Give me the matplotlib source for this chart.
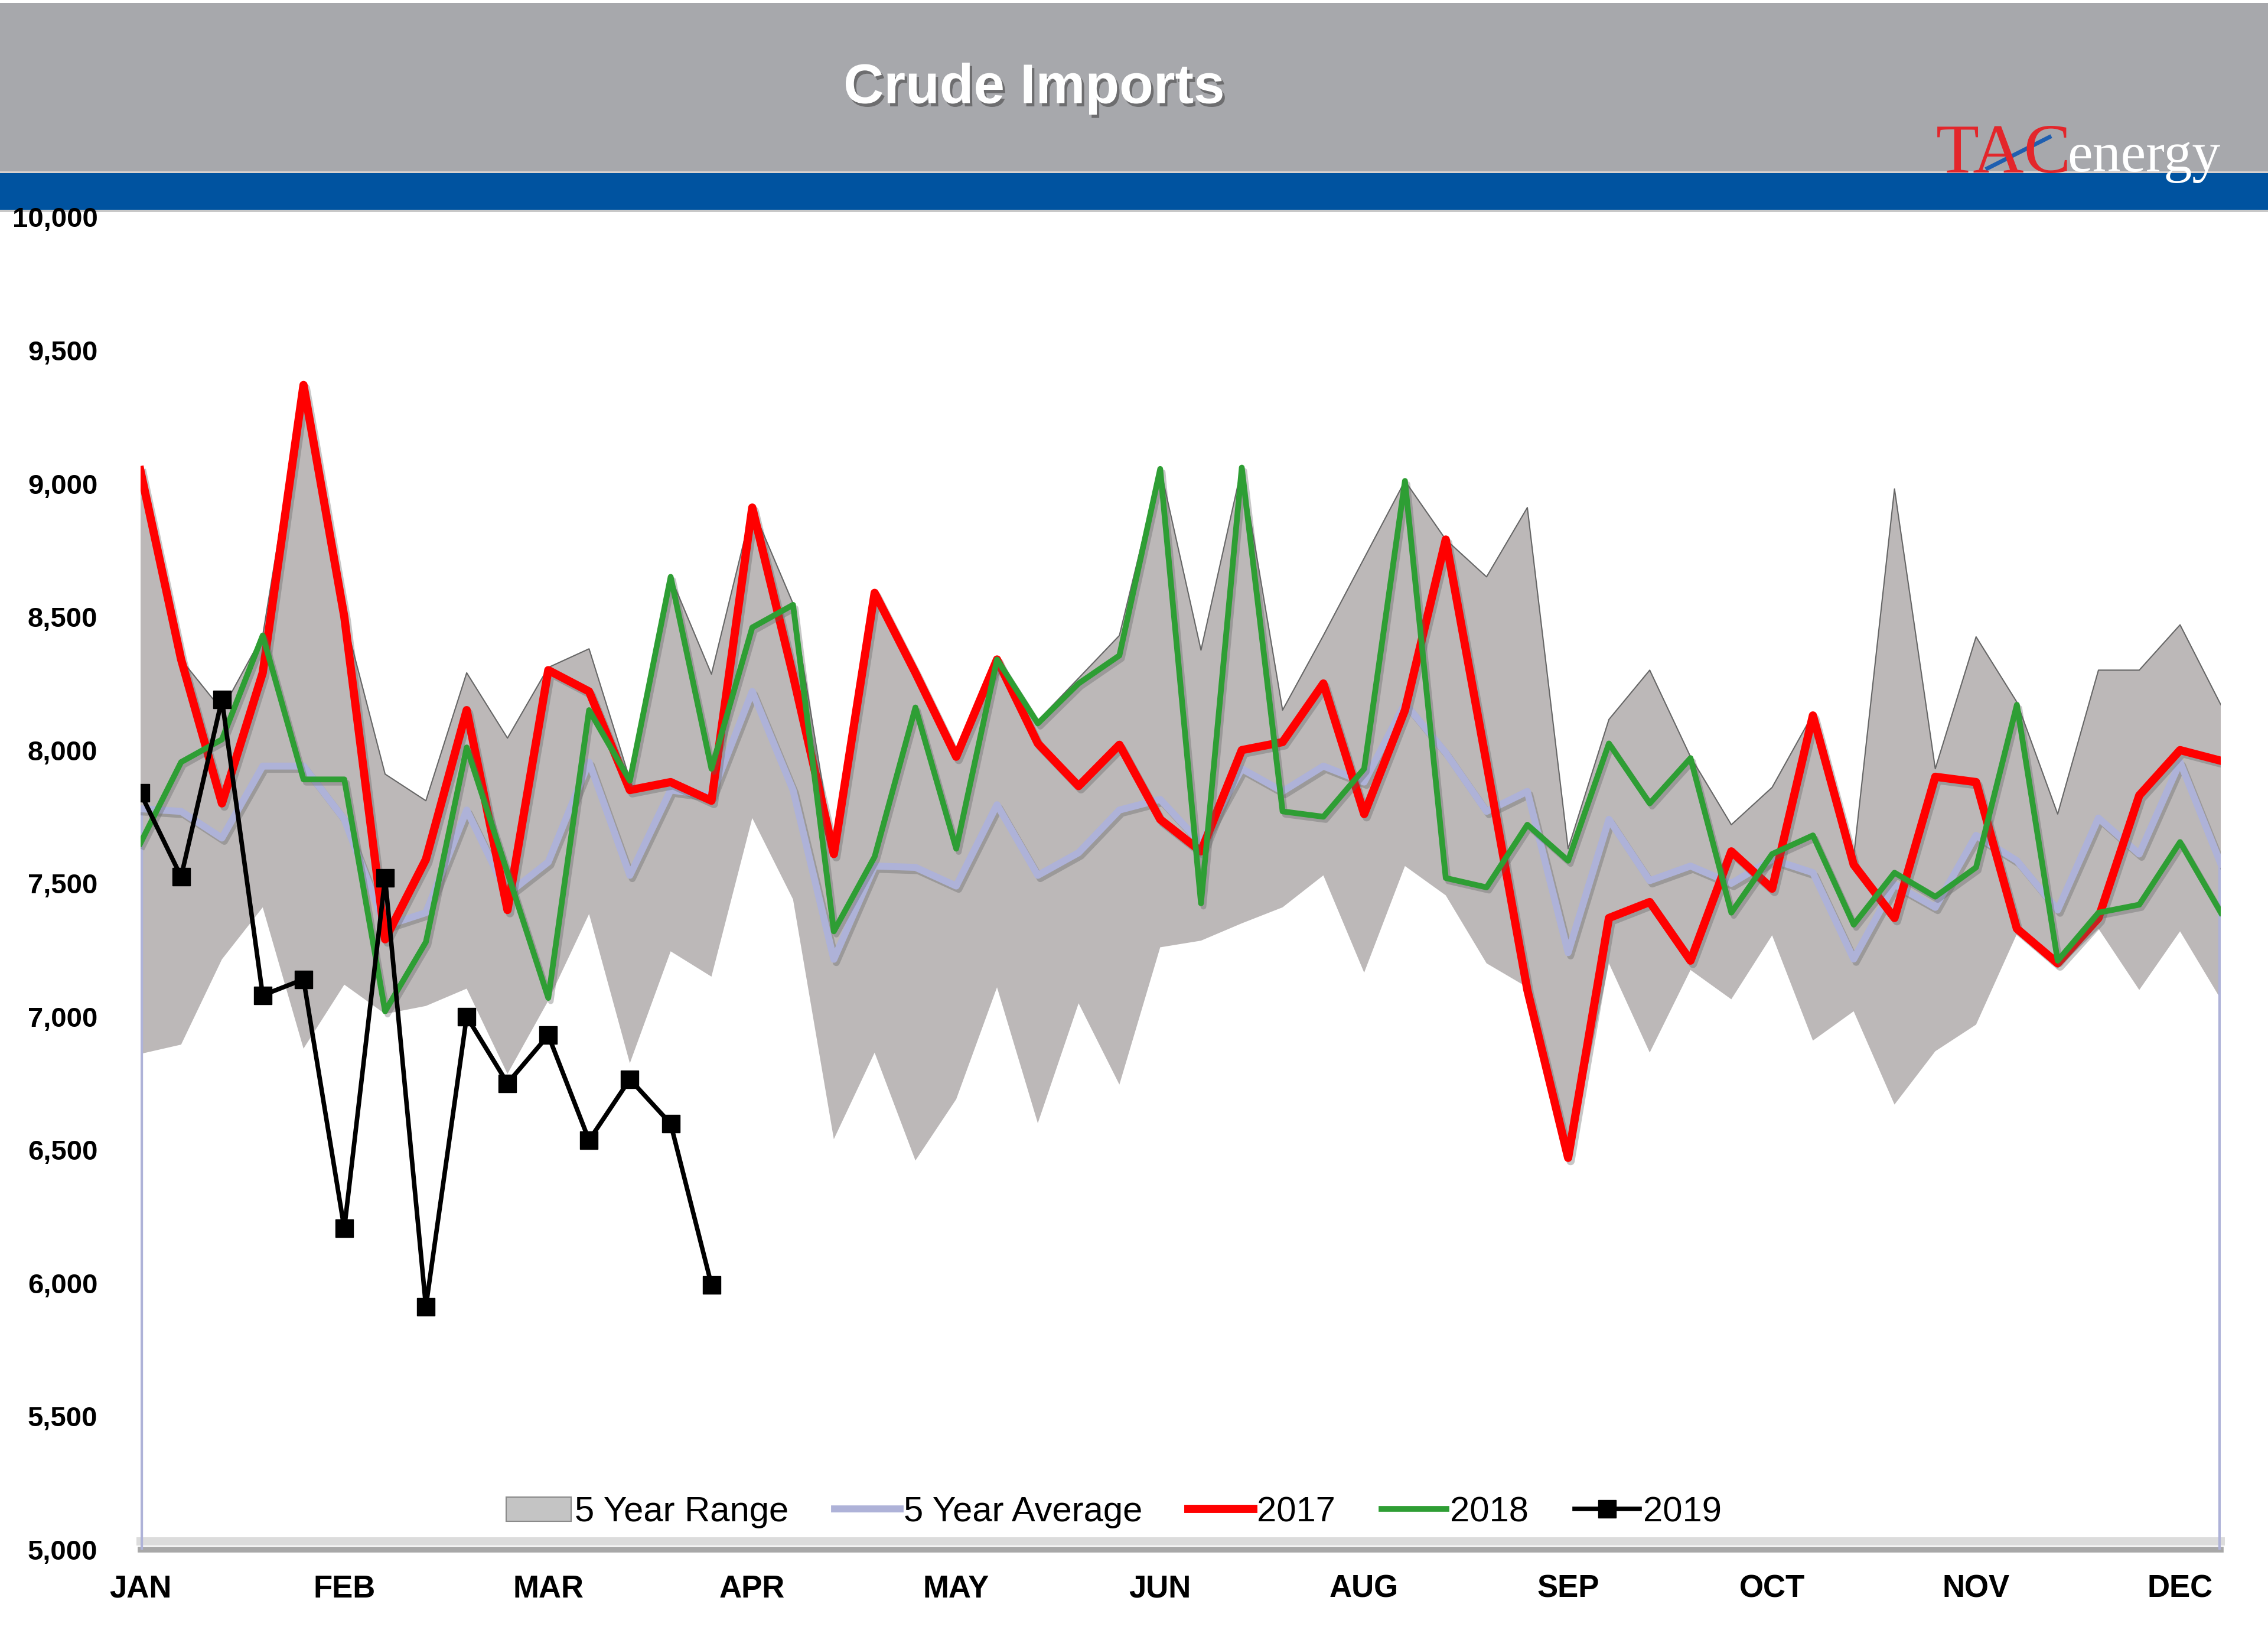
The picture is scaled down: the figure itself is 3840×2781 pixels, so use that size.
import numpy as np
import matplotlib.pyplot as plt
import matplotlib.patheffects as pe
from matplotlib.patches import Patch, Rectangle
from matplotlib.lines import Line2D

plt.rcParams['font.family'] = ['Liberation Sans', 'DejaVu Sans']

# weekly data, 52 weeks
weeks = np.arange(52)
month_ticks = list(range(0, 51, 5))
month_labels = ['JAN', 'FEB', 'MAR', 'APR', 'MAY', 'JUN', 'AUG', 'SEP', 'OCT', 'NOV', 'DEC']

range_high = [9050, 8340, 8150, 8430, 9370, 8500, 7910, 7810, 8290, 8045,
              8310, 8380, 7890, 8650, 8285, 8910, 8550, 7610, 8590, 8290,
              7980, 8345, 8110, 8270, 8430, 9060, 8375, 9060, 8150, 8430,
              8720, 9010, 8790, 8650, 8910, 7630, 8115, 8300, 7975, 7720,
              7860, 8135, 7600, 8980, 7930, 8425, 8180, 7760, 8300, 8300,
              8470, 8170]
range_low = [6860, 6895, 7215, 7410, 6880, 7120, 7010, 7040, 7105, 6785,
             7060, 7385, 6825, 7245, 7150, 7745, 7440, 6540, 6865, 6460,
             6690, 7110, 6600, 7050, 6745, 7260, 7285, 7350, 7410, 7530,
             7165, 7565, 7455, 7200, 7110, 6450, 7200, 6865, 7175, 7065,
             7305, 6910, 7020, 6670, 6870, 6970, 7310, 7180, 7330, 7100,
             7320, 7065]
avg_5yr = [7780, 7770, 7670, 7940, 7940, 7740, 7340, 7390, 7775, 7460,
           7580, 7955, 7530, 7850, 7830, 8220, 7850, 7215, 7565, 7560,
           7490, 7795, 7530, 7615, 7775, 7815, 7650, 7930, 7845, 7940,
           7880, 8175, 7990, 7770, 7845, 7240, 7740, 7510, 7565, 7500,
           7590, 7540, 7216, 7496, 7410, 7680, 7585, 7400, 7745, 7610,
           7955, 7573]
y2017 = [9050, 8340, 7800, 8290, 9370, 8500, 7290, 7590, 8150, 7400,
         8300, 8220, 7850, 7880, 7810, 8910, 8280, 7610, 8590, 8290,
         7975, 8340, 8025, 7865, 8020, 7740, 7620, 8000, 8030, 8250,
         7760, 8150, 8790, 7950, 7100, 6470, 7370, 7430, 7210, 7620,
         7480, 8130, 7570, 7370, 7900, 7880, 7330, 7200, 7370, 7830,
         8000, 7960]
y2018 = [7650, 7955, 8040, 8430, 7890, 7890, 7020, 7280, 8010, 7540,
         7070, 8150, 7885, 8650, 7930, 8460, 8545, 7320, 7600, 8160,
         7630, 8340, 8100, 8250, 8355, 9055, 7425, 9060, 7770, 7750,
         7930, 9010, 7520, 7485, 7720, 7585, 8025, 7800, 7970, 7390,
         7610, 7680, 7345, 7540, 7450, 7560, 8170, 7210, 7390, 7420,
         7655, 7390]
y2019 = [7840, 7525, 8190, 7080, 7140, 6205, 7520, 5912, 7000, 6750,
         6930, 6536, 6765, 6598, 5994]

W, H = 3840, 2781
fig = plt.figure(figsize=(W / 100, H / 100), dpi=100)

# header: gray banner + blue stripe
fig.add_artist(Rectangle((0, 1 - 290 / H), 1, 285 / H, transform=fig.transFigure,
                         facecolor='#A7A8AC', edgecolor='none', zorder=0))
fig.add_artist(Rectangle((0, 1 - 293 / H), 1, 3 / H, transform=fig.transFigure,
                         facecolor='#D9D2CF', edgecolor='none', zorder=0))
fig.add_artist(Rectangle((0, 1 - 355 / H), 1, 62 / H, transform=fig.transFigure,
                         facecolor='#0053A0', edgecolor='none', zorder=0))
fig.add_artist(Rectangle((0, 1 - 359 / H), 1, 4 / H, transform=fig.transFigure,
                         facecolor='#C8C8C8', edgecolor='none', zorder=0))

fig.text(0.456, 1 - 150 / H, 'Crude Imports', color='white', fontsize=68,
         fontweight='bold', ha='center', va='center',
         path_effects=[pe.withSimplePatchShadow(offset=(3, -4), shadow_rgbFace='#555555', alpha=0.7)])

# logo
fig.text(3278 / W, 1 - 292 / H, 'TAC', color='#E3262B', fontsize=86,
         family='Liberation Serif', ha='left', va='baseline')
fig.text(3500 / W, 1 - 290 / H, 'energy', color='white', fontsize=69,
         family='Liberation Serif', ha='left', va='baseline')
fig.add_artist(Line2D([3365 / W, 3470 / W], [1 - 285 / H, 1 - 232 / H],
                      transform=fig.transFigure, color='#1F5FB0', lw=5))

left = 237.6 / W
right = (237.6 + 51 * 69.07) / W
bottom = 1 - 2623 / H
top = 1 - 367.4 / H
ax = fig.add_axes([left, bottom, right - left, top - bottom])

shadow = [pe.SimpleLineShadow(offset=(3, -4), shadow_color='#606060', alpha=0.35), pe.Normal()]

ax.fill_between(weeks, range_low, range_high, facecolor='#BCB8B8', edgecolor='none', zorder=1)
ax.plot(weeks, range_high, color='#666666', lw=1.5, zorder=1.5)

avg_col = '#AEB2D8'
ax.vlines([weeks[0], weeks[-1]], 5000, [avg_5yr[0], avg_5yr[-1]], color=avg_col, lw=6, zorder=2)
ax.plot(weeks, avg_5yr, color=avg_col, lw=8.5, zorder=2, path_effects=shadow)
ax.plot(weeks, y2017, color='#FF0000', lw=10, zorder=3, path_effects=shadow)
ax.plot(weeks, y2018, color='#2E9E34', lw=7, zorder=4, path_effects=shadow)
ax.plot(weeks[:len(y2019)], y2019, color='black', lw=5.5, marker='s', ms=22, zorder=5)

# floor at the bottom
ax.plot([0, 51], [5000, 5000], color='#A8A8A8', lw=7, zorder=0.5, clip_on=False)
ax.plot([0, 51], [5030, 5030], color='#DCDCDC', lw=10, zorder=0.4, clip_on=False)

ax.set_xlim(0, 51)
ax.set_ylim(5000, 10000)
ax.set_xticks(month_ticks)
ax.set_xticklabels(month_labels, fontweight='bold')
yt = list(range(5000, 10001, 500))
ax.set_yticks(yt)
ax.set_yticklabels([f'{v:,}' for v in yt], fontweight='bold')
ax.tick_params(axis='x', length=0, pad=30, labelsize=38)
ax.tick_params(axis='y', length=0, pad=52, labelsize=34)
for s in ax.spines.values():
    s.set_visible(False)

handles = [
    Patch(facecolor='#C4C4C4', edgecolor='#8A8A8A', lw=1.5, label='5 Year Range'),
    Line2D([], [], color=avg_col, lw=8.5, label='5 Year Average'),
    Line2D([], [], color='#FF0000', lw=10, label='2017'),
    Line2D([], [], color='#2E9E34', lw=7, label='2018'),
    Line2D([], [], color='black', lw=5.5, marker='s', ms=22, label='2019'),
]
ax.legend(handles=handles, loc='center', bbox_to_anchor=(0.468, 0.028), ncol=5,
          frameon=False, fontsize=43, handlelength=1.85, handletextpad=0.1,
          columnspacing=1.3)

fig.savefig('out.png', dpi=100)
